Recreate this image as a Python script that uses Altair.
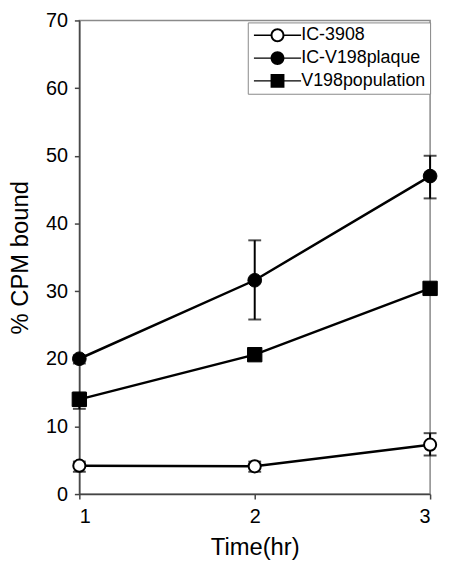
import altair as alt
import pandas as pd

time_hr = [1, 2, 3]
series_names = ["IC-3908", "IC-V198plaque", "V198population"]

ic3908_mean = [4.2, 4.1, 7.3]
ic3908_lo = [3.3, 3.3, 5.7]
ic3908_hi = [4.8, 4.8, 9.0]

plaque_mean = [20.0, 31.6, 47.0]
plaque_lo = [19.3, 25.8, 43.7]
plaque_hi = [20.5, 37.5, 50.0]

population_mean = [14.0, 20.6, 30.4]
population_lo = [12.6, 19.9, 29.8]
population_hi = [15.0, 21.3, 31.0]

y_ticks = [0, 10, 20, 30, 40, 50, 60, 70]

rows = []
for name, m, lo, hi in [
    (series_names[0], ic3908_mean, ic3908_lo, ic3908_hi),
    (series_names[1], plaque_mean, plaque_lo, plaque_hi),
    (series_names[2], population_mean, population_lo, population_hi),
]:
    for t, a, b, c in zip(time_hr, m, lo, hi):
        rows.append({"series": name, "time": t, "value": a, "lo": b, "hi": c})
df = pd.DataFrame(rows)

FONT = "Liberation Sans"

x_enc = alt.X("time:Q", scale=alt.Scale(domain=[1, 3], nice=False, zero=False),
              axis=alt.Axis(values=[float(v) for v in time_hr], title="Time(hr)",
                            labelExpr="toString(round(datum.value))"))
y_enc = alt.Y("value:Q", scale=alt.Scale(domain=[0, 70], nice=False),
              axis=alt.Axis(values=y_ticks, title="% CPM bound"))

base = alt.Chart(df)

lines = base.mark_line(color="black", strokeWidth=2.5).encode(
    x=x_enc, y=y_enc, detail="series:N"
)

err = base.mark_rule(color="black", strokeWidth=2).encode(
    x=x_enc, y=alt.Y("lo:Q"), y2="hi:Q"
)
cap_lo = base.mark_tick(color="black", orient="horizontal", size=13, thickness=2).encode(
    x=x_enc, y=alt.Y("lo:Q")
)
cap_hi = base.mark_tick(color="black", orient="horizontal", size=13, thickness=2).encode(
    x=x_enc, y=alt.Y("hi:Q")
)

pts_open = base.transform_filter(alt.datum.series == series_names[0]).mark_point(
    shape="circle", filled=True, fill="white", stroke="black", strokeWidth=2, opacity=1, size=150
).encode(x=x_enc, y=y_enc)
pts_circle = base.transform_filter(alt.datum.series == series_names[1]).mark_point(
    shape="circle", filled=True, fill="black", stroke="black", strokeWidth=1, opacity=1, size=190
).encode(x=x_enc, y=y_enc)
pts_square = base.transform_filter(alt.datum.series == series_names[2]).mark_point(
    shape="square", filled=True, fill="black", stroke="black", strokeWidth=1, opacity=1, size=210
).encode(x=x_enc, y=y_enc)

# legend glyphs drawn as filled outlines: line - marker - line
seg = "M-3.4,-0.1H-0.9V0.1H-3.4Z M0.9,-0.1H3.4V0.1H0.9Z "
ring = "M-1,0A1,1 0 1,1 1,0A1,1 0 1,1 -1,0Z M-0.72,0A0.72,0.72 0 1,0 0.72,0A0.72,0.72 0 1,0 -0.72,0Z"
disc = "M-1,0A1,1 0 1,1 1,0A1,1 0 1,1 -1,0Z"
sq = "M-1,-1H1V1H-1Z"
p_open = seg + ring
p_fill = seg + disc
p_sq = seg + sq

leg = alt.Legend(
    title=None, orient="none", legendX=170, legendY=2,
    labelFont=FONT, labelFontSize=18, labelColor="black",
    symbolSize=196, symbolStrokeWidth=0, symbolFillColor="black", symbolOpacity=1,
    symbolOffset=17, labelOffset=15, rowPadding=5, padding=4,
    strokeColor="#888888", fillColor="white",
)

legend_layer = base.transform_filter("datum.value < -1000").mark_point(
    filled=True, color="black", opacity=1
).encode(
    x=x_enc,
    y=y_enc,
    shape=alt.Shape("series:N", scale=alt.Scale(domain=series_names, range=[p_open, p_fill, p_sq]), legend=leg),
)

chart = alt.layer(lines, err, cap_lo, cap_hi, pts_open, pts_circle, pts_square, legend_layer).properties(
    width=354, height=478, padding={"left": 0, "top": 0, "right": 0, "bottom": 0}
).configure_view(
    stroke="#8a8a8a", strokeWidth=1.5
).configure_axis(
    grid=False,
    domainColor="#444444", domainWidth=1.5,
    tickColor="#444444", tickSize=5, tickWidth=1.5,
    labelFont=FONT, labelFontSize=20, labelColor="black", labelPadding=7,
    titleFont=FONT, titleFontSize=24, titleFontWeight="normal", titleColor="black",
).configure_axisY(
    titlePadding=13
).configure_axisX(
    titlePadding=9, labelPadding=8
)

chart.save("out.html", embed_options={"renderer": "svg", "actions": False})
